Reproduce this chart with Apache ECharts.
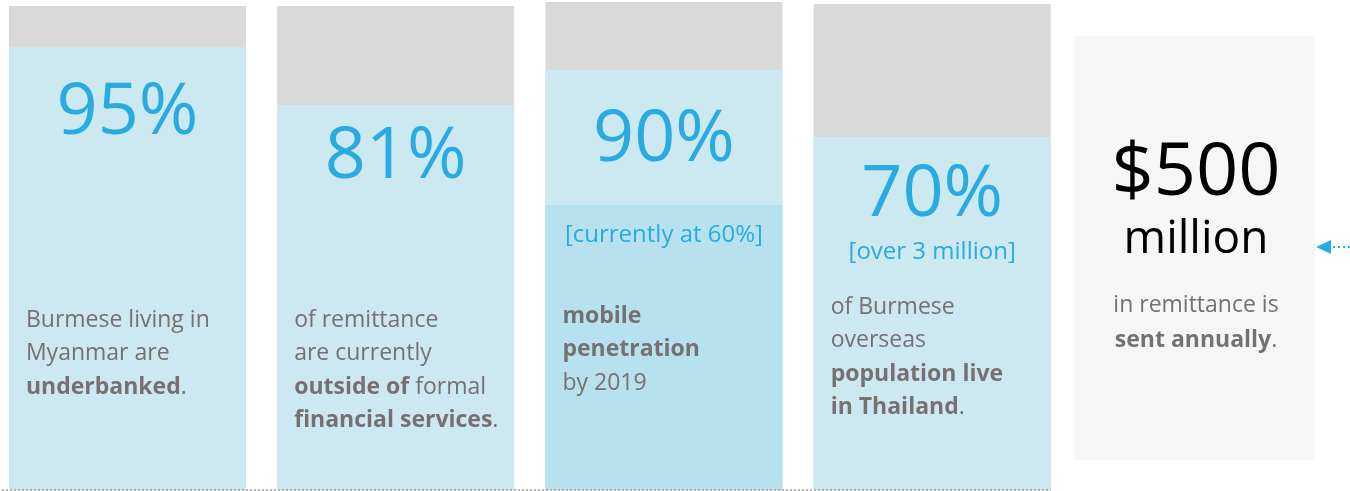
<!DOCTYPE html>
<html>
<head>
<meta charset="utf-8">
<script src="https://cdn.jsdelivr.net/npm/echarts@6/dist/echarts.min.js"></script>
<style>
  html, body { margin: 0; padding: 0; background: #fff; }
  #chart { width: 1350px; height: 491px; }
</style>
</head>
<body>
<div id="chart"></div>
<script>
// 数据
const categories = ['Burmese underbanked', 'Remittance outside formal', 'Mobile penetration', 'Overseas in Thailand'];
const totalValues = [99.7, 99.7, 100.5, 100.1];   // 灰色背景柱
const shareValues = [91.2, 79.3, 86.5, 72.7];     // 浅蓝柱
const currentValues = [null, null, 58.7, null];   // 深一点的蓝（当前值）
const bigLabels = ['95%', '81%', '90%', '70%'];
const noteLabels = ['', '', '[currently at 60%]', '[over 3 million]'];
const descLines = [
  ['Burmese living in', 'Myanmar are', '{b|underbanked}.'],
  ['of remittance', 'are currently', '{b|outside of} formal', '{b|financial services}.'],
  ['{b|mobile}', '{b|penetration}', 'by 2019'],
  ['of Burmese', 'overseas', '{b|population live}', '{b|in Thailand}.']
];
const remitAmount = '$500';
const remitUnit = 'million';
const remitLines = ['in remittance is', '{b|sent annually}.'];

// 版式
const FONT = '"Open Sans", "Noto Sans", sans-serif';
const BLUE_TEXT = '#29abe2';
const GRAY_TEXT = '#767171';
const bigY = [113, 157, 140, 195];
const noteY = [0, 0, 235, 252];
const descY = [320, 320, 316, 307];
const LINE_H = 33.5;
const DESC_SIZE = 23;

const chart = echarts.init(document.getElementById('chart'));

chart.setOption({
  animation: false,
  grid: { left: -6.7, top: 2, width: 1073, bottom: 1, outerBoundsMode: 'none' },
  xAxis: {
    type: 'category',
    data: categories,
    axisLine: { show: false },
    axisTick: { show: false },
    axisLabel: { show: false }
  },
  yAxis: {
    type: 'value',
    min: 0,
    max: 100.5,
    show: false,
    splitLine: { show: false }
  },
  series: [
    {
      type: 'bar',
      data: totalValues,
      barWidth: 237,
      barGap: '-100%',
      itemStyle: { color: '#d9d9d9' }
    },
    {
      type: 'bar',
      data: shareValues,
      barWidth: 237,
      barGap: '-100%',
      itemStyle: { color: '#cce8f0' }
    },
    {
      type: 'bar',
      data: currentValues,
      barWidth: 237,
      barGap: '-100%',
      itemStyle: { color: '#b8e1ef' }
    }
  ]
});

// 文字与右侧面板
const graphics = [];
const baseY = chart.convertToPixel({ yAxisIndex: 0 }, 0);
const lastRight = chart.convertToPixel({ xAxisIndex: 0 }, categories[categories.length - 1]) + 118.5;
graphics.push({
  type: 'line', z: 100,
  shape: { x1: 2, y1: baseY, x2: lastRight, y2: baseY },
  style: { stroke: '#9a9a9a', lineWidth: 1.5, lineDash: [2, 2] }
});

categories.forEach((c, i) => {
  const cx = chart.convertToPixel({ xAxisIndex: 0 }, c);
  const left = cx - 118.5;
  graphics.push({
    type: 'text',
    z: 100,
    style: {
      text: bigLabels[i], x: cx, y: bigY[i],
      align: 'center', verticalAlign: 'middle',
      font: '72px ' + FONT, fill: BLUE_TEXT
    }
  });
  if (noteLabels[i]) {
    graphics.push({
      type: 'text',
      z: 100,
      style: {
        text: noteLabels[i], x: cx, y: noteY[i],
        align: 'center', verticalAlign: 'middle',
        font: '24px ' + FONT, fill: BLUE_TEXT
      }
    });
  }
  graphics.push({
    type: 'text',
    z: 100,
    style: {
      text: descLines[i].join('\n'),
      x: left + 17, y: descY[i] - LINE_H / 2,
      align: 'left', verticalAlign: 'top',
      fontSize: DESC_SIZE, fontFamily: FONT, fill: GRAY_TEXT, lineHeight: LINE_H,
      rich: {
        b: { fontSize: DESC_SIZE, fontFamily: FONT, fontWeight: 'bold', fill: GRAY_TEXT, lineHeight: LINE_H }
      }
    }
  });
});

graphics.push(
  {
    type: 'rect', z: 1,
    shape: { x: 1075, y: 36, width: 240, height: 424 },
    style: { fill: '#f6f6f6' }
  },
  {
    type: 'text', z: 100,
    style: {
      text: remitAmount, x: 1196, y: 174,
      align: 'center', verticalAlign: 'middle',
      font: '74px ' + FONT, fill: '#000'
    }
  },
  {
    type: 'text', z: 100,
    style: {
      text: remitUnit, x: 1196, y: 240,
      align: 'center', verticalAlign: 'middle',
      font: '46px ' + FONT, fill: '#000'
    }
  },
  {
    type: 'text', z: 100,
    style: {
      text: remitLines.join('\n'), x: 1196, y: 305 - 17.5,
      align: 'center', verticalAlign: 'top',
      fontSize: DESC_SIZE, fontFamily: FONT, fill: GRAY_TEXT, lineHeight: 35,
      rich: {
        b: { fontSize: DESC_SIZE, fontFamily: FONT, fontWeight: 'bold', fill: GRAY_TEXT, lineHeight: 35 }
      }
    }
  },
  {
    type: 'polygon', z: 100,
    shape: { points: [[1316, 247], [1331, 240], [1331, 254]] },
    style: { fill: BLUE_TEXT }
  },
  {
    type: 'line', z: 100,
    shape: { x1: 1333, y1: 247, x2: 1350, y2: 247 },
    style: { stroke: BLUE_TEXT, lineWidth: 2, lineDash: [2, 3] }
  }
);

chart.setOption({ graphic: graphics });

window.addEventListener('resize', () => chart.resize());
</script>
</body>
</html>
